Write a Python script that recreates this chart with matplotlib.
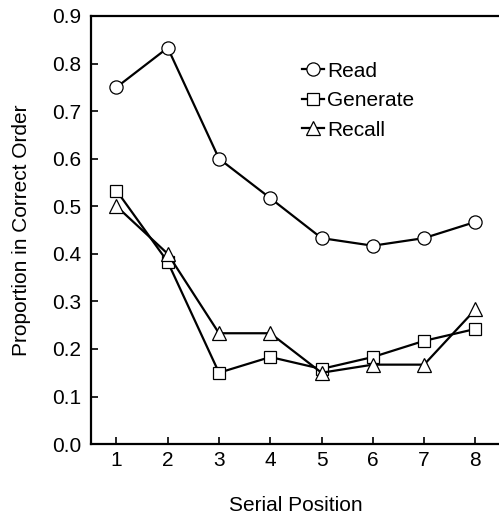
import numpy as np
import matplotlib
matplotlib.use("Agg")
import matplotlib.pyplot as plt

plt.rcParams["font.family"] = ["Liberation Sans", "DejaVu Sans"]

positions = [1, 2, 3, 4, 5, 6, 7, 8]
read = [0.750, 0.833, 0.600, 0.517, 0.433, 0.417, 0.433, 0.467]
generate = [0.533, 0.383, 0.150, 0.183, 0.158, 0.183, 0.217, 0.242]
recall = [0.500, 0.400, 0.233, 0.233, 0.150, 0.167, 0.167, 0.283]
yticks = [0.0, 0.1, 0.2, 0.3, 0.4, 0.5, 0.6, 0.7, 0.8, 0.9]

fig = plt.figure(figsize=(4.99, 5.14), dpi=100)
ax = fig.add_axes([0.182, 0.136, 0.822, 0.833])

mk = dict(color="black", lw=1.6, mfc="white", mec="black", mew=0.9)
ax.plot(positions, read, marker="o", ms=9.5, label="Read", **mk)
ax.plot(positions, generate, marker="s", ms=9, label="Generate", **mk)
ax.plot(positions, recall, marker="^", ms=10, label="Recall", **mk)

ax.set_xlim(0.5, 8.5)
ax.set_ylim(0, 0.9)
ax.set_xticks(positions)
ax.set_yticks(yticks)
ax.set_yticklabels([f"{v:.1f}" for v in yticks])
ax.tick_params(direction="in", length=5, width=1.2, labelsize=15)
ax.tick_params(axis="x", pad=5)
ax.tick_params(axis="y", pad=7)
for s in ["left", "bottom", "top"]:
    ax.spines[s].set_linewidth(1.6)
ax.spines["right"].set_visible(False)

ax.set_xlabel("Serial Position", fontsize=15, labelpad=19)
ax.set_ylabel("Proportion in Correct Order", fontsize=15, labelpad=15)

ax.legend(loc="upper left", bbox_to_anchor=(0.515, 0.893), frameon=False,
          fontsize=15, handlelength=1.05, handletextpad=0.15,
          labelspacing=0.5, borderpad=0, borderaxespad=0)

fig.savefig("out.png", dpi=100)
